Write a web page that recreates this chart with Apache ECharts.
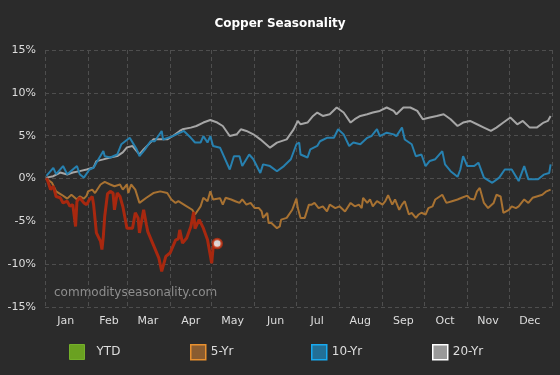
<!DOCTYPE html>
<html>
<head>
<meta charset="utf-8">
<script src="https://cdn.jsdelivr.net/npm/echarts@6.0.0/dist/echarts.min.js"></script>
<style>
  html, body { margin: 0; padding: 0; background: #2b2b2b; }
  #chart { width: 560px; height: 375px; }
</style>
</head>
<body>
<div id="chart"></div>
<script>
// month names and lengths for the day-of-year axis
const months = ["Jan", "Feb", "Mar", "Apr", "May", "Jun", "Jul", "Aug", "Sep", "Oct", "Nov", "Dec"];
const monthDays = [31, 28, 31, 30, 31, 30, 31, 31, 30, 31, 30, 31];
const yTicks = [-15, -10, -5, 0, 5, 10, 15];

// [day of year, % change]
const ytd = [
  [1, 0.05], [2, -0.3], [4, -1.3], [6, -0.9], [8, -2.1], [11, -2.25], [13, -2.85], [16, -2.65],
  [18, -3.25], [20, -3.05], [22, -5.6], [23, -2.65], [25, -2.25], [28, -2.85], [30, -3.05],
  [32, -2.45], [34, -2.1], [35, -3.05], [37, -6.35], [40, -7.35], [41, -8.3], [42, -6.75],
  [43, -4.4], [45, -1.8], [47, -1.5], [49, -1.7], [50, -3.65], [52, -1.7], [54, -2.1],
  [56, -3.25], [59, -5.8], [63, -5.8], [65, -4.0], [67, -4.6], [68, -6.35], [71, -3.65],
  [73, -5.4], [74, -6.2], [78, -7.75], [82, -9.3], [84, -10.85], [87, -9.1], [90, -8.7],
  [94, -7.2], [96, -7.05], [97, -6.0], [99, -7.55], [102, -6.95], [105, -5.6], [107, -3.9],
  [108, -5.85], [111, -4.8], [114, -5.8], [117, -7.15], [120, -9.9], [121, -8.1], [124, -7.6]
];

const fiveYr = [
  [1, 0], [5, -0.5], [8, -1.5], [12, -1.9], [16, -2.35], [19, -1.9], [23, -2.45], [25, -2.1],
  [28, -2.35], [30, -2.0], [31, -1.5], [34, -1.3], [36, -1.7], [40, -0.7], [43, -0.4], [47, -0.7],
  [50, -0.9], [54, -0.7], [56, -1.3], [59, -0.7], [60, -1.7], [62, -0.7], [65, -1.3], [68, -2.85],
  [73, -2.25], [78, -1.7], [83, -1.5], [88, -1.7], [91, -2.45], [94, -2.85], [96, -2.65],
  [100, -3.05], [102, -3.25], [106, -3.65], [108, -4.2], [112, -3.25], [114, -2.25], [117, -2.65],
  [119, -1.5], [121, -2.45], [126, -2.3], [128, -3.05], [130, -2.25], [134, -2.45], [137, -2.65],
  [140, -2.85], [142, -2.45], [145, -3.05], [148, -2.85], [151, -3.45], [154, -3.45], [156, -3.85],
  [157, -4.6], [160, -4.0], [161, -5.2], [163, -5.2], [167, -5.8], [169, -5.6], [170, -4.8],
  [174, -4.6], [178, -3.65], [181, -2.35], [182, -3.45], [184, -4.6], [187, -4.6], [190, -3.05],
  [192, -3.05], [194, -2.85], [197, -3.45], [200, -3.25], [203, -3.85], [205, -3.05], [209, -3.45],
  [212, -3.25], [216, -3.85], [220, -2.85], [223, -3.25], [226, -3.05], [228, -3.45], [229, -2.25],
  [232, -2.85], [234, -2.45], [236, -3.25], [239, -2.65], [243, -3.05], [245, -2.65], [247, -1.95],
  [250, -3.05], [252, -2.45], [255, -3.65], [257, -3.05], [259, -2.65], [262, -4.2], [264, -4.0],
  [267, -4.6], [269, -4.2], [271, -4.0], [274, -4.2], [276, -3.45], [279, -3.25], [281, -2.45],
  [286, -1.9], [289, -2.85], [293, -2.65], [297, -2.45], [300, -2.25], [304, -2.0], [306, -2.35],
  [309, -2.45], [311, -1.5], [313, -1.1], [316, -2.85], [319, -3.45], [323, -2.85], [325, -1.9],
  [328, -2.1], [330, -4.0], [334, -3.65], [336, -3.25], [339, -3.45], [341, -3.25], [345, -2.45],
  [348, -2.85], [351, -2.25], [354, -2.1], [358, -1.9], [361, -1.5], [364, -1.3]
];

const tenYr = [
  [1, 0.3], [6, 1.25], [8, 0.5], [13, 1.45], [16, 0.5], [20, 1.05], [23, 1.45], [25, 0.5],
  [28, 0.1], [32, 1.05], [35, 1.25], [37, 1.85], [42, 3.2], [43, 2.6], [47, 2.45], [52, 2.8],
  [55, 4.0], [61, 4.75], [66, 3.4], [68, 2.6], [72, 3.4], [76, 4.35], [79, 4.35], [84, 5.55],
  [85, 4.55], [92, 4.95], [100, 5.55], [105, 4.75], [108, 4.2], [112, 4.2], [114, 4.95],
  [117, 4.2], [119, 4.95], [121, 3.8], [126, 3.6], [133, 1.05], [136, 2.6], [140, 2.6],
  [142, 1.45], [147, 2.8], [150, 2.25], [155, 0.65], [157, 1.65], [162, 1.45], [167, 0.85],
  [172, 1.45], [177, 2.25], [181, 4.0], [183, 4.2], [184, 2.8], [189, 2.45], [191, 3.4],
  [196, 3.8], [198, 4.35], [203, 4.75], [208, 4.75], [211, 5.75], [215, 5.15], [219, 3.8],
  [222, 4.2], [227, 4.0], [232, 4.75], [235, 4.95], [239, 5.75], [241, 4.95], [246, 5.35],
  [251, 5.15], [253, 4.95], [257, 5.95], [259, 4.55], [264, 4.0], [267, 2.6], [271, 2.8],
  [274, 1.45], [277, 2.05], [281, 2.25], [286, 3.2], [288, 1.65], [292, 0.85], [297, 0.2],
  [299, 1.05], [301, 2.6], [304, 1.45], [309, 1.45], [312, 1.85], [316, 0.1], [322, -0.5],
  [327, 0.1], [331, 1.05], [336, 1.05], [341, -0.3], [345, 1.45], [348, -0.1], [355, -0.1],
  [359, 0.45], [363, 0.65], [364, 1.65]
];

const twentyYr = [
  [1, 0.1], [6, 0.27], [11, 0.7], [16, 0.47], [20, 0.7], [25, 0.86], [30, 1.06], [35, 1.29],
  [37, 2.03], [42, 2.23], [47, 2.46], [52, 2.61], [56, 3.05], [59, 3.63], [63, 3.79], [66, 3.2],
  [68, 2.81], [71, 3.4], [76, 4.22], [78, 4.57], [83, 4.57], [88, 4.57], [92, 4.96], [97, 5.55],
  [99, 5.74], [105, 5.94], [109, 6.13], [114, 6.53], [119, 6.83], [124, 6.53], [128, 6.13],
  [133, 4.96], [138, 5.16], [141, 5.74], [145, 5.55], [150, 5.16], [155, 4.57], [162, 3.6],
  [167, 4.19], [174, 4.57], [179, 5.74], [182, 6.72], [184, 6.33], [189, 6.53], [193, 7.3],
  [196, 7.7], [200, 7.3], [205, 7.5], [210, 8.29], [215, 7.7], [220, 6.53], [223, 6.92],
  [227, 7.3], [232, 7.5], [236, 7.7], [241, 7.89], [246, 8.29], [251, 7.89], [253, 7.5],
  [258, 8.29], [263, 8.29], [268, 7.89], [272, 6.92], [277, 7.12], [282, 7.3], [287, 7.5],
  [292, 6.92], [297, 6.13], [301, 6.53], [306, 6.72], [311, 6.33], [316, 5.94], [321, 5.55],
  [325, 5.94], [330, 6.53], [335, 7.12], [340, 6.33], [344, 6.72], [349, 5.94], [354, 5.94],
  [359, 6.53], [362, 6.72], [364, 7.3]
];

// build the day axis: one category per day, month starts and mid-month label days
const days = [];
const monthStarts = [];
const labelDays = [];
let start = 0;
monthDays.forEach((n, i) => {
  monthStarts.push(start);
  labelDays.push(start + 15);
  for (let d = 0; d < n; d++) days.push(months[i]);
  start += n;
});
monthStarts.push(start);
days.push("");

const font = "DejaVu Sans";
const legendItems = [
  { name: "YTD", left: 64, pad: 7, itemStyle: { color: "#6aa121", borderColor: "#74b02a", borderWidth: 1 } },
  { name: "5-Yr", left: 185, pad: 0, itemStyle: { color: "#8a5c30", borderColor: "#e8902f", borderWidth: 1.5 } },
  { name: "10-Yr", left: 306, pad: 0, itemStyle: { color: "#226f96", borderColor: "#18aaf0", borderWidth: 1.5 } },
  { name: "20-Yr", left: 427, pad: 0, itemStyle: { color: "#999999", borderColor: "#ffffff", borderWidth: 1.5 } }
];

const chart = echarts.init(document.getElementById("chart"));
chart.setOption({
  backgroundColor: "#2b2b2b",
  animation: false,
  textStyle: { fontFamily: font },
  title: {
    text: "Copper Seasonality",
    left: "center",
    top: 13,
    textStyle: { color: "#ffffff", fontSize: 12, fontWeight: "bold", fontFamily: font }
  },
  legend: legendItems.map((it) => ({
    left: it.left,
    top: 339,
    icon: "rect",
    itemWidth: 15,
    itemHeight: 15,
    itemGap: 0,
    selectedMode: false,
    textStyle: { color: "#dddddd", fontSize: 12, fontFamily: font, padding: [0, 0, 0, it.pad] },
    data: [{ name: it.name, itemStyle: it.itemStyle }]
  })),
  grid: { left: 45, right: 8, top: 50, bottom: 68 },
  xAxis: {
    type: "category",
    data: days,
    boundaryGap: false,
    axisLine: { show: false },
    axisTick: { show: false },
    axisLabel: {
      color: "#dddddd",
      fontSize: 11,
      fontFamily: font,
      margin: 9,
      interval: (idx) => labelDays.includes(idx)
    },
    splitLine: {
      show: true,
      interval: (idx) => monthStarts.includes(idx),
      lineStyle: { color: "#4e4e4e", type: [4, 3], width: 1 }
    }
  },
  yAxis: {
    type: "value",
    min: yTicks[0],
    max: yTicks[yTicks.length - 1],
    interval: 5,
    axisLine: { show: false },
    axisTick: { show: false },
    axisLabel: { color: "#dddddd", fontSize: 11, fontFamily: font, margin: 9, formatter: "{value}%" },
    splitLine: { lineStyle: { color: "#4e4e4e", type: [4, 3], width: 1 } }
  },
  graphic: [{
    type: "text",
    left: 54,
    top: 287,
    style: { text: "commodityseasonality.com", fill: "#8e8e8e", font: "12px '" + font + "'" }
  }],
  series: [
    { name: "20-Yr", type: "line", data: twentyYr, showSymbol: false, color: "#a6a6a6", lineStyle: { width: 2, color: "#a6a6a6" } },
    { name: "10-Yr", type: "line", data: tenYr, showSymbol: false, color: "#2781b0", lineStyle: { width: 2, color: "#2781b0" } },
    { name: "5-Yr", type: "line", data: fiveYr, showSymbol: false, color: "#a87232", lineStyle: { width: 2, color: "#a87232" } },
    { name: "YTD", type: "line", data: ytd, showSymbol: false, color: "#a8280f", lineStyle: { width: 3, color: "#a8280f" } },
    {
      type: "scatter",
      data: [ytd[ytd.length - 1]],
      symbol: "circle",
      symbolSize: 9,
      itemStyle: { color: "#ffffff", borderColor: "#c0300f", borderWidth: 2.5 },
      z: 5
    }
  ]
});
</script>
</body>
</html>
